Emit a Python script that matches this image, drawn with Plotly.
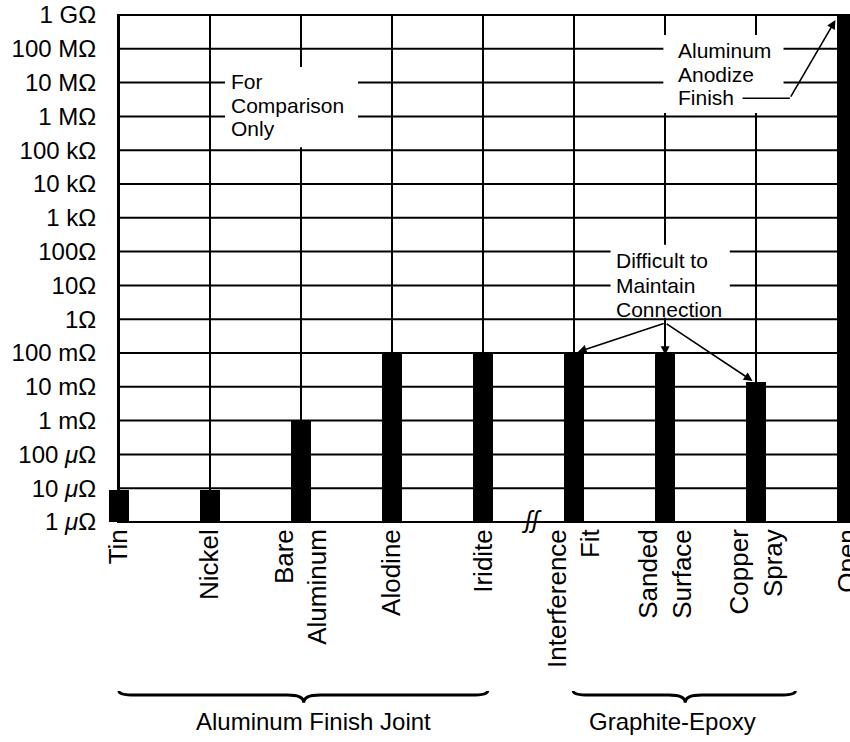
import plotly.graph_objects as go

# ---- data -------------------------------------------------------------
categories = ["Tin", "Nickel", "Bare<br>Aluminum", "Alodine", "Iridite",
              "Interference<br>Fit", "Sanded<br>Surface", "Copper<br>Spray", "Open"]
resistance_ohm = [8e-6, 8e-6, 1e-3, 1e-1, 1e-1, 1e-1, 1e-1, 1.4e-2, 1e9]

y_tick_vals = [1e-6, 1e-5, 1e-4, 1e-3, 1e-2, 1e-1, 1e0, 1e1, 1e2,
               1e3, 1e4, 1e5, 1e6, 1e7, 1e8, 1e9]
y_tick_text = ["1 <i>μ</i>Ω", "10 <i>μ</i>Ω", "100 <i>μ</i>Ω", "1 mΩ", "10 mΩ",
               "100 mΩ", "1Ω", "10Ω", "100Ω", "1 kΩ", "10 kΩ", "100 kΩ",
               "1 MΩ", "10 MΩ", "100 MΩ", "1 GΩ"]

group_labels = ["Aluminum Finish Joint", "Graphite-Epoxy"]

# ---- figure -----------------------------------------------------------
FONT = "Liberation Sans, Arial, Helvetica, sans-serif"
x_pos = list(range(len(categories)))
X_RANGE = [-0.12, 8.03]
Y_RANGE = [-6.03, 9.03]

fig = go.Figure()
fig.add_trace(go.Bar(
    x=x_pos, y=resistance_ohm, base=1e-6, width=0.22,
    marker=dict(color="black", line=dict(width=0)),
    hoverinfo="skip", showlegend=False,
))

shapes = []
# horizontal grid lines (one per decade), starting at the axis line
for v in y_tick_vals:
    shapes.append(dict(type="line", xref="x", yref="y", x0=0, x1=X_RANGE[1],
                       y0=v, y1=v, line=dict(color="black", width=2), layer="below"))

# white label boxes (break the grid lines); y given in decades
for (xa, xb, ya, yb) in [(1.165, 2.626, 5.09, 7.46),
                         (5.98, 7.30, 6.10, 8.41),
                         (5.40, 6.71, 0.04, 2.20)]:
    shapes.append(dict(type="rect", xref="x", yref="y", x0=xa, x1=xb,
                       y0=10 ** ya, y1=10 ** yb,
                       fillcolor="white", line=dict(width=0), layer="above"))

# leader after "Finish"
shapes.append(dict(type="line", xref="x", yref="y", x0=6.85, x1=7.37,
                   y0=10 ** 6.54, y1=10 ** 6.54,
                   line=dict(color="black", width=1.5), layer="above"))

# braces under the category groups
def brace(x0, x1, xc, y_end=-0.330, y_flat=-0.338, y_tip=-0.353):
    d = 0.18
    p = (f"M {x0},{y_end} Q {x0},{y_flat} {x0+d},{y_flat} "
         f"L {xc-d},{y_flat} Q {xc},{y_flat} {xc},{y_tip} "
         f"Q {xc},{y_flat} {xc+d},{y_flat} "
         f"L {x1-d},{y_flat} Q {x1},{y_flat} {x1},{y_end}")
    return dict(type="path", xref="x", yref="paper", path=p,
                line=dict(color="black", width=3))

shapes.append(brace(0.0, 4.05, 2.03))
shapes.append(brace(4.99, 7.43, 6.22))

annotations = []
def txt(x, y, s, size=21, xanchor="left", yref="y"):
    annotations.append(dict(x=x, y=y, xref="x", yref=yref, text=s, showarrow=False,
                            xanchor=xanchor, yanchor="middle",
                            font=dict(family=FONT, size=size, color="black")))

for y, s in [(7.02, "For"), (6.31, "Comparison"), (5.63, "Only")]:
    txt(1.21, y, s)
for y, s in [(7.96, "Aluminum"), (7.25, "Anodize"), (6.57, "Finish")]:
    txt(6.12, y, s)
for y, s in [(1.75, "Difficult to"), (1.01, "Maintain"), (0.30, "Connection")]:
    txt(5.44, y, s)

# group labels
txt(2.14, -0.39, group_labels[0], size=24, xanchor="center", yref="paper")
txt(6.08, -0.39, group_labels[1], size=24, xanchor="center", yref="paper")

# axis break mark
annotations.append(dict(x=4.53, y=-5.94, xref="x", yref="y", text="<i>ʃʃ</i>",
                        showarrow=False, font=dict(family=FONT, size=24, color="black")))

# arrows (annotation coordinates on a log axis are in decades)
def arrow(x, y, ax, ay):
    annotations.append(dict(x=x, y=y, ax=ax, ay=ay, xref="x", yref="y",
                            axref="x", ayref="y", text="", showarrow=True,
                            arrowhead=2, arrowsize=1.1, arrowwidth=1.6,
                            arrowcolor="black"))

arrow(7.87, 8.85, 7.37, 6.54)
arrow(5.04, -0.97, 6.0, -0.11)
arrow(6.0, -1.06, 6.0, -0.11)
arrow(6.96, -1.83, 6.0, -0.11)

fig.update_layout(
    width=850, height=742,
    margin=dict(l=108, r=0, t=14, b=219, autoexpand=False),
    paper_bgcolor="white", plot_bgcolor="white",
    shapes=shapes, annotations=annotations,
    bargap=0,
    font=dict(family=FONT, color="black"),
    xaxis=dict(
        range=X_RANGE, tickmode="array", tickvals=x_pos, ticktext=categories,
        tickangle=-90, tickfont=dict(family=FONT, size=26, color="black"),
        showgrid=True, gridcolor="black", gridwidth=1.8,
        zeroline=True, zerolinecolor="black", zerolinewidth=2.6,
        ticks="", showline=False, fixedrange=True, automargin=False,
        ticklabeloverflow="allow",
    ),
    yaxis=dict(
        type="log", range=Y_RANGE, tickmode="array", tickvals=y_tick_vals,
        ticktext=y_tick_text, tickfont=dict(family=FONT, size=24, color="black"),
        showgrid=False, zeroline=False, showline=False,
        ticks="outside", ticklen=6, tickcolor="rgba(0,0,0,0)", fixedrange=True,
        automargin=False,
    ),
)

fig.write_html(
    "out.html",
    config={"displayModeBar": False},
    post_script="document.body.style.margin='0';document.body.style.overflow='hidden';",
)
